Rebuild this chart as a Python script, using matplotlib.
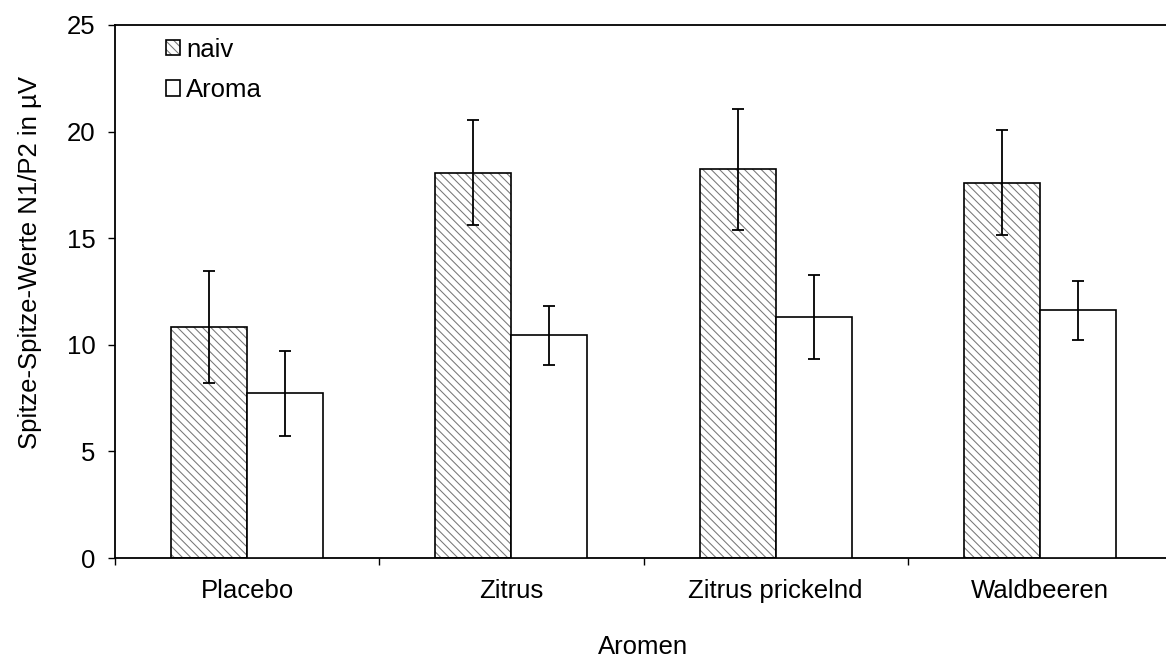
import matplotlib
matplotlib.use('Agg')
import matplotlib.pyplot as plt
import numpy as np

plt.rcParams['font.family'] = ['Liberation Sans', 'DejaVu Sans']
plt.rcParams['hatch.linewidth'] = 0.75

# Daten
aromen = ['Placebo', 'Zitrus', 'Zitrus prickelnd', 'Waldbeeren']
naiv = [10.85, 18.08, 18.23, 17.6]
naiv_err = [2.62, 2.48, 2.84, 2.47]
aroma = [7.72, 10.44, 11.3, 11.62]
aroma_err = [2.01, 1.39, 1.96, 1.38]

fig = plt.figure(figsize=(11.66, 6.61), dpi=100)
ax = fig.add_axes([115/1166, 1 - 558/661, 1 - 115/1166, (558 - 25)/661])

x = np.arange(len(aromen))
w = 0.2875
fs = 18.5

# naiv: graue Schraffur + schwarzer Rand
b1 = ax.bar(x - w/2, naiv, w, color='white', edgecolor='#777777',
            hatch='\\\\\\\\', linewidth=0, zorder=2)
b2 = ax.bar(x - w/2, naiv, w, color='none', edgecolor='black',
            linewidth=1.2, zorder=3)
b3 = ax.bar(x + w/2, aroma, w, color='white', edgecolor='black',
            linewidth=1.2, zorder=3)

ax.errorbar(x - w/2, naiv, yerr=naiv_err, fmt='none', ecolor='black',
            elinewidth=1.3, capsize=4.5, capthick=1.3, zorder=4)
ax.errorbar(x + w/2, aroma, yerr=aroma_err, fmt='none', ecolor='black',
            elinewidth=1.3, capsize=4.5, capthick=1.3, zorder=4)

ax.set_ylim(0, 25)
ax.set_xlim(-0.5, 3.477)
ax.set_yticks(range(0, 26, 5))
ax.tick_params(axis='y', direction='out', length=5, width=1, labelsize=fs, pad=9)

ax.set_xticks(np.arange(-0.5, 3.0, 1.0))
ax.set_xticklabels([])
ax.set_xticks(x, minor=True)
ax.set_xticklabels(aromen, minor=True)
ax.tick_params(axis='x', which='major', direction='out', length=5, width=1)
ax.tick_params(axis='x', which='minor', length=0, labelsize=fs, pad=15)

for s in ['left', 'bottom', 'top']:
    ax.spines[s].set_linewidth(1.3)
ax.spines['right'].set_visible(False)

ax.set_ylabel('Spitze-Spitze-Werte N1/P2 in µV', fontsize=fs)
ax.yaxis.set_label_coords(-0.069, 0.555)
ax.set_xlabel('Aromen', fontsize=fs)
ax.xaxis.set_label_coords(0.5028, -0.145)

ax.legend([(b1, b2), b3], ['naiv', 'Aroma'], loc='upper left',
          bbox_to_anchor=(0.031, 1.01), frameon=False, fontsize=fs,
          handlelength=0.55, handleheight=0.55, handletextpad=0.25,
          labelspacing=0.64, borderpad=0.2)

fig.savefig('out.png', dpi=100)
